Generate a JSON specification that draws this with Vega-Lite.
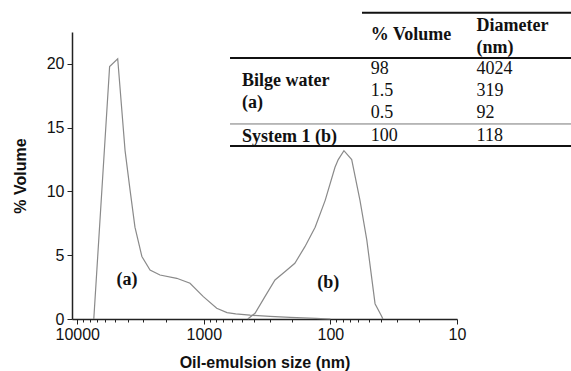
{
  "$schema": "https://vega.github.io/schema/vega-lite/v6.json",
  "width": 385,
  "height": 287,
  "autosize": "none",
  "padding": {"left": 72, "top": 32, "right": 114, "bottom": 52},
  "background": "white",
  "config": {"view": {"stroke": null}},
  "datasets": {
    "curves": [
      {"series": "a", "size": 7400, "pct": 0},
      {"series": "a", "size": 5550, "pct": 19.8},
      {"series": "a", "size": 4790, "pct": 20.4},
      {"series": "a", "size": 4190, "pct": 13.2},
      {"series": "a", "size": 3825, "pct": 10.1},
      {"series": "a", "size": 3500, "pct": 7.2},
      {"series": "a", "size": 3085, "pct": 4.9},
      {"series": "a", "size": 2660, "pct": 3.84},
      {"series": "a", "size": 2220, "pct": 3.45},
      {"series": "a", "size": 1637, "pct": 3.19},
      {"series": "a", "size": 1285, "pct": 2.8},
      {"series": "a", "size": 1009, "pct": 1.75},
      {"series": "a", "size": 791, "pct": 0.84},
      {"series": "a", "size": 656, "pct": 0.5},
      {"series": "a", "size": 560, "pct": 0.4},
      {"series": "a", "size": 432, "pct": 0.3},
      {"series": "a", "size": 300, "pct": 0.2},
      {"series": "a", "size": 208, "pct": 0.12},
      {"series": "a", "size": 130, "pct": 0.05},
      {"series": "a", "size": 100, "pct": 0},
      {"series": "b", "size": 450, "pct": 0},
      {"series": "b", "size": 394, "pct": 0.45},
      {"series": "b", "size": 329, "pct": 1.75},
      {"series": "b", "size": 274, "pct": 3.06},
      {"series": "b", "size": 229, "pct": 3.7},
      {"series": "b", "size": 191, "pct": 4.37},
      {"series": "b", "size": 159, "pct": 5.67},
      {"series": "b", "size": 132, "pct": 7.2},
      {"series": "b", "size": 110, "pct": 9.3},
      {"series": "b", "size": 92, "pct": 11.9},
      {"series": "b", "size": 86.7, "pct": 12.5},
      {"series": "b", "size": 78.2, "pct": 13.2},
      {"series": "b", "size": 67.9, "pct": 12.5},
      {"series": "b", "size": 58.4, "pct": 9.3},
      {"series": "b", "size": 51.6, "pct": 6.2},
      {"series": "b", "size": 44.4, "pct": 1.2},
      {"series": "b", "size": 39.3, "pct": 0.2},
      {"series": "b", "size": 38.5, "pct": 0}
    ],
    "curveLabels": [
      {"size": 4043, "pct": 3.06, "text": "(a)"},
      {"size": 104, "pct": 2.82, "text": "(b)"}
    ],
    "tableBold": [
      {"size": 48, "pct": 22.26, "text": "% Volume"},
      {"size": 7, "pct": 22.97, "text": "Diameter"},
      {"size": 7, "pct": 21.24, "text": "(nm)"},
      {"size": 500, "pct": 18.66, "text": "Bilge water"},
      {"size": 500, "pct": 16.93, "text": "(a)"},
      {"size": 500, "pct": 14.27, "text": "System 1 (b)"}
    ],
    "tableRegular": [
      {"size": 48, "pct": 19.6, "text": "98"},
      {"size": 7, "pct": 19.6, "text": "4024"},
      {"size": 48, "pct": 17.87, "text": "1.5"},
      {"size": 7, "pct": 17.87, "text": "319"},
      {"size": 48, "pct": 16.15, "text": "0.5"},
      {"size": 7, "pct": 16.15, "text": "92"},
      {"size": 48, "pct": 14.35, "text": "100"},
      {"size": 7, "pct": 14.35, "text": "118"}
    ],
    "tableThick": [
      {"size": 56.3, "size2": 1, "pct": 24},
      {"size": 621, "size2": 1, "pct": 20.46},
      {"size": 621, "size2": 1, "pct": 13.56}
    ],
    "tableThin": [
      {"size": 621, "size2": 1, "pct": 15.29}
    ]
  },
  "layer": [
    {
      "data": {"name": "curves"},
      "mark": {"type": "line", "color": "#8a8a8a", "strokeWidth": 1.2},
      "encoding": {
        "x": {
          "field": "size", "type": "quantitative",
          "scale": {"type": "log", "domain": [10, 11000], "reverse": true, "nice": false},
          "axis": {
            "title": "Oil-emulsion size (nm)",
            "values": [10, 20, 30, 40, 50, 60, 70, 80, 90, 100, 200, 300, 400, 500, 600, 700, 800, 900, 1000, 2000, 3000, 4000, 5000, 6000, 7000, 8000, 9000, 10000],
            "labelExpr": "(datum.value == 10 || datum.value == 100 || datum.value == 1000 || datum.value == 10000) ? format(datum.value, 'd') : ''",
            "tickSize": {"condition": {"test": "datum.value == 10 || datum.value == 100 || datum.value == 1000 || datum.value == 10000", "value": 5}, "value": 3},
            "grid": false,
            "domainColor": "#222", "domainWidth": 1.5,
            "tickColor": "#222", "tickWidth": 1,
            "labelFont": "Liberation Sans", "labelFontSize": 16, "labelColor": "#111",
            "labelPadding": 2, "labelFlush": false, "labelOverlap": false,
            "titleFont": "Liberation Sans", "titleFontSize": 16, "titleFontWeight": "bold", "titleColor": "#111",
            "titlePadding": 12
          }
        },
        "y": {
          "field": "pct", "type": "quantitative",
          "scale": {"domain": [0, 22.5], "nice": false},
          "axis": {
            "title": "% Volume",
            "values": [0, 2.5, 5, 7.5, 10, 12.5, 15, 17.5, 20, 22.5],
            "labelExpr": "(datum.value % 5 == 0) ? format(datum.value, 'd') : ''",
            "tickSize": {"condition": {"test": "datum.value % 5 == 0", "value": 5}, "value": 3},
            "grid": false,
            "domainColor": "#222", "domainWidth": 1.5,
            "tickColor": "#222", "tickWidth": 1,
            "labelFont": "Liberation Sans", "labelFontSize": 16, "labelColor": "#111",
            "labelPadding": 3, "labelFlush": false, "labelOverlap": false,
            "titleFont": "Liberation Sans", "titleFontSize": 16, "titleFontWeight": "bold", "titleColor": "#111",
            "titlePadding": 18
          }
        },
        "detail": {"field": "series", "type": "nominal"}
      }
    },
    {
      "data": {"name": "curveLabels"},
      "mark": {"type": "text", "font": "Liberation Serif", "fontSize": 18, "fontWeight": "bold", "align": "center", "baseline": "middle", "color": "#111"},
      "encoding": {
        "x": {"field": "size", "type": "quantitative"},
        "y": {"field": "pct", "type": "quantitative"},
        "text": {"field": "text"}
      }
    },
    {
      "data": {"name": "tableThick"},
      "mark": {"type": "rule", "color": "#111", "strokeWidth": 2},
      "encoding": {
        "x": {"field": "size", "type": "quantitative"},
        "x2": {"field": "size2"},
        "y": {"field": "pct", "type": "quantitative"}
      }
    },
    {
      "data": {"name": "tableThin"},
      "mark": {"type": "rule", "color": "#777", "strokeWidth": 1},
      "encoding": {
        "x": {"field": "size", "type": "quantitative"},
        "x2": {"field": "size2"},
        "y": {"field": "pct", "type": "quantitative"}
      }
    },
    {
      "data": {"name": "tableBold"},
      "mark": {"type": "text", "font": "Liberation Serif", "fontSize": 18, "fontWeight": "bold", "align": "left", "baseline": "middle", "color": "#111"},
      "encoding": {
        "x": {"field": "size", "type": "quantitative"},
        "y": {"field": "pct", "type": "quantitative"},
        "text": {"field": "text"}
      }
    },
    {
      "data": {"name": "tableRegular"},
      "mark": {"type": "text", "font": "Liberation Serif", "fontSize": 18, "align": "left", "baseline": "middle", "color": "#111"},
      "encoding": {
        "x": {"field": "size", "type": "quantitative"},
        "y": {"field": "pct", "type": "quantitative"},
        "text": {"field": "text"}
      }
    }
  ]
}
